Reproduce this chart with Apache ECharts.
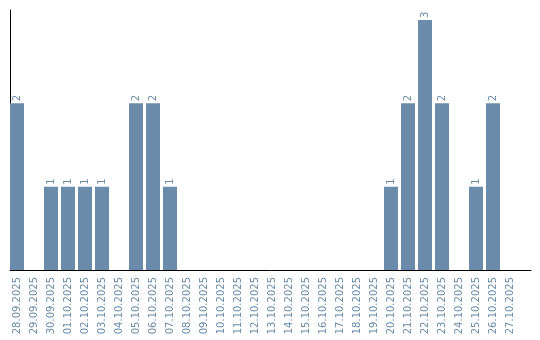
<!DOCTYPE html>
<html><head><meta charset="utf-8">
<script src="https://cdn.jsdelivr.net/npm/echarts@6/dist/echarts.min.js"></script>
<style>html,body{margin:0;padding:0;background:#fff}#c{width:540px;height:340px}</style>
</head><body><div id="c"></div>
<script>
const categories = ["28.09.2025","29.09.2025","30.09.2025","01.10.2025","02.10.2025","03.10.2025","04.10.2025","05.10.2025","06.10.2025","07.10.2025","08.10.2025","09.10.2025","10.10.2025","11.10.2025","12.10.2025","13.10.2025","14.10.2025","15.10.2025","16.10.2025","17.10.2025","18.10.2025","19.10.2025","20.10.2025","21.10.2025","22.10.2025","23.10.2025","24.10.2025","25.10.2025","26.10.2025","27.10.2025"];
const values = [2,0,1,1,1,1,0,2,2,1,0,0,0,0,0,0,0,0,0,0,0,0,1,2,3,2,0,1,2,0];
const barColor = '#6a8caa';
const chart = echarts.init(document.getElementById('c'));
chart.setOption({
  animation: false,
  grid: [
    {left: 8.5, top: 10, bottom: 70, width: 510},
    {left: 10, top: 10, bottom: 70, width: 521}
  ],
  xAxis: [
    {type: 'category', gridIndex: 0, data: categories,
     axisLine: {show: false}, axisTick: {show: false},
     axisLabel: {rotate: 90, interval: 0, margin: 7, color: barColor, fontFamily: 'DejaVu Sans', fontSize: 10}},
    {type: 'category', gridIndex: 1, data: [''], axisLine: {show: true, lineStyle: {color: '#000', width: 1}},
     axisTick: {show: false}, axisLabel: {show: false}}
  ],
  yAxis: [
    {type: 'value', gridIndex: 0, min: 0, max: 3.12, axisLine: {show: false}, axisTick: {show: false},
     axisLabel: {show: false}, splitLine: {show: false}},
    {type: 'value', gridIndex: 1, min: 0, max: 1, axisLine: {show: true, lineStyle: {color: '#000', width: 1}},
     axisTick: {show: false}, axisLabel: {show: false}, splitLine: {show: false}}
  ],
  series: [{
    type: 'bar', xAxisIndex: 0, yAxisIndex: 0, data: values, barWidth: 14,
    itemStyle: {color: barColor},
    label: {show: true, position: 'top', rotate: 90, align: 'left', verticalAlign: 'middle', distance: 2,
      color: barColor, fontFamily: 'DejaVu Sans', fontSize: 10,
      formatter: p => p.value > 0 ? String(p.value) : ''}
  }]
});
</script></body></html>
